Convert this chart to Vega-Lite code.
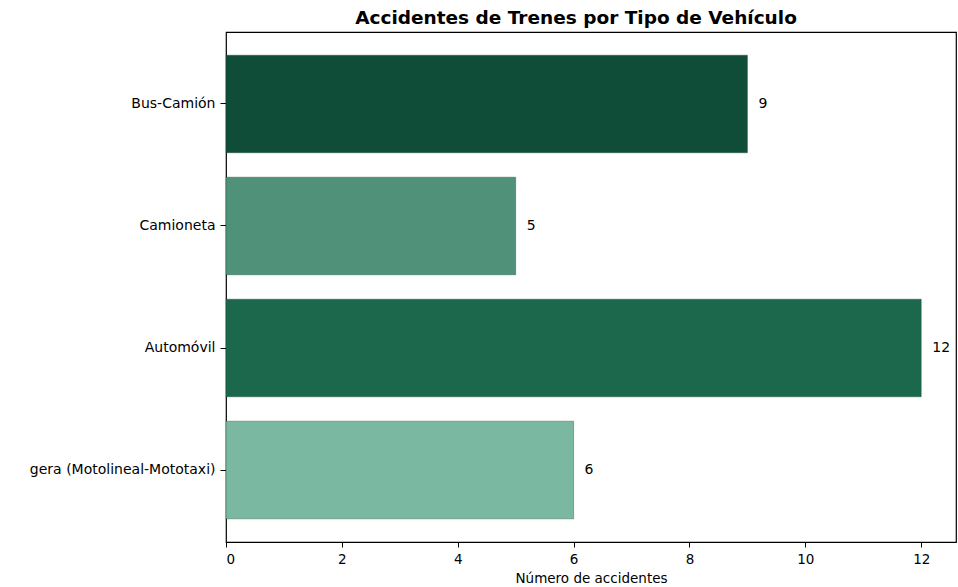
{
  "$schema": "https://vega.github.io/schema/vega-lite/v6.json",
  "autosize": {"type": "none"},
  "width": 730,
  "height": 510,
  "padding": {"left": 226, "top": 32, "right": 2, "bottom": 45},
  "background": "white",
  "title": {
    "text": "Accidentes de Trenes por Tipo de Vehículo",
    "font": "DejaVu Sans",
    "fontSize": 18.5,
    "fontWeight": "bold",
    "color": "black",
    "anchor": "middle",
    "dx": -15,
    "offset": 5
  },
  "config": {
    "view": {"stroke": "black", "strokeWidth": 1.2},
    "font": "DejaVu Sans"
  },
  "data": {
    "values": [
      {"tipo": "Bus-Camión", "n": 9},
      {"tipo": "Camioneta", "n": 5},
      {"tipo": "Automóvil", "n": 12},
      {"tipo": "gera (Motolineal-Mototaxi)", "n": 6}
    ]
  },
  "encoding": {
    "y": {
      "field": "tipo",
      "type": "nominal",
      "sort": null,
      "scale": {"paddingInner": 0.2, "paddingOuter": 0.19},
      "axis": {
        "title": null,
        "labelFont": "DejaVu Sans",
        "labelFontSize": 14,
        "labelColor": "black",
        "labelLimit": 0,
        "labelPadding": 5,
        "tickSize": 6,
        "tickColor": "black",
        "domain": false,
        "grid": false
      }
    },
    "x": {
      "field": "n",
      "type": "quantitative",
      "scale": {"domain": [0, 12.6], "nice": false, "zero": true},
      "axis": {
        "title": "Número de accidentes",
        "titleFont": "DejaVu Sans",
        "titleFontSize": 13.5,
        "titleFontWeight": "normal",
        "titleColor": "black",
        "titlePadding": 6,
        "values": [0, 2, 4, 6, 8, 10, 12],
        "labelFont": "DejaVu Sans",
        "labelFontSize": 13.5,
        "labelColor": "black",
        "labelPadding": 5,
        "tickSize": 5,
        "tickColor": "black",
        "domain": false,
        "grid": false
      }
    }
  },
  "layer": [
    {
      "mark": {"type": "bar", "stroke": "#0c3b2c", "strokeOpacity": 0.35, "strokeWidth": 1},
      "encoding": {
        "color": {
          "field": "tipo",
          "type": "nominal",
          "scale": {
            "domain": ["Bus-Camión", "Camioneta", "Automóvil", "gera (Motolineal-Mototaxi)"],
            "range": ["#104d39", "#4f9179", "#1b684d", "#7bb8a1"]
          },
          "legend": null
        }
      }
    },
    {
      "mark": {"type": "text", "align": "left", "baseline": "middle", "dx": 11, "fontSize": 14, "font": "DejaVu Sans", "color": "black"},
      "encoding": {
        "text": {"field": "n", "type": "quantitative"}
      }
    }
  ]
}
